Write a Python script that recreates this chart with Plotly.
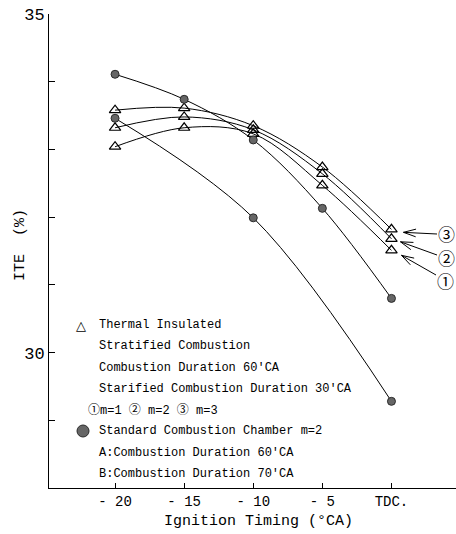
import math
import plotly.graph_objects as go

# Ignition timing sweep (deg CA, TDC = 0)
timing = [-20, -15, -10, -5, 0]
timing_b = [-20, -10, 0]

# Thermal insulated stratified combustion, m = 1, 2, 3 (ITE %)
ite_m1 = [33.04, 33.32, 33.23, 32.47, 31.51]
ite_m2 = [33.32, 33.48, 33.29, 32.64, 31.68]
ite_m3 = [33.58, 33.61, 33.35, 32.74, 31.82]

# Standard combustion chamber m = 2 (A: 60 deg CA, B: 70 deg CA duration)
ite_std_a = [34.11, 33.74, 33.14, 32.13, 30.80]
ite_std_b = [33.46, 31.99, 29.28]

x_ticks = [-20, -15, -10, -5, 0]
x_ticktext = ["- 20", "- 15", "- 10", "- 5", "TDC."]
y_ticks = [28, 29, 30, 31, 32, 33, 34, 35]
y_ticktext = ["", "", "30", "", "", "", "", "35"]

legend_lines = [
    "Thermal Insulated",
    "Stratified Combustion",
    "Combustion Duration 60'CA",
    "Starified Combustion Duration 30'CA",
    "①m=1 ② m=2 ③ m=3",
    "Standard Combustion Chamber m=2",
    "A:Combustion Duration 60'CA",
    "B:Combustion Duration 70'CA",
]

MONO = "Liberation Mono, Noto Sans CJK JP, monospace"
W, H = 456, 534
ML, MR, MT, MB = 49, 0, 14, 46
XR = [-24.78, 4.67]
YR = [28, 35]
PW, PH = W - ML - MR, H - MT - MB


def to_px(x, y):
    px = ML + (x - XR[0]) / (XR[1] - XR[0]) * PW
    py = MT + (YR[1] - y) / (YR[1] - YR[0]) * PH
    return px, py


def to_data(px, py):
    x = XR[0] + (px - ML) / PW * (XR[1] - XR[0])
    y = YR[1] - (py - MT) / PH * (YR[1] - YR[0])
    return x, y


def to_paper(px, py):
    return (px - ML) / PW, (H - MB - py) / PH


fig = go.Figure()

line_style = dict(color="black", width=1, shape="spline", smoothing=1.0)
tri = dict(symbol="triangle-up-open", size=10, color="black", line=dict(width=1.2, color="black"))
dot = dict(symbol="circle", size=8, color="#666666", line=dict(width=1, color="#2a2a2a"))

for ys in (ite_m1, ite_m2, ite_m3):
    fig.add_trace(go.Scatter(x=timing, y=ys, mode="lines+markers", line=line_style,
                             marker=tri, showlegend=False))
fig.add_trace(go.Scatter(x=timing, y=ite_std_a, mode="lines+markers", line=line_style,
                         marker=dot, showlegend=False))
fig.add_trace(go.Scatter(x=timing_b, y=ite_std_b, mode="lines+markers", line=line_style,
                         marker=dot, showlegend=False))

annotations = []
shapes = []

# Call-out arrows pointing at the TDC points of the m-series
callouts = [
    ("③", ite_m3[-1], (12, 3), (437, 234), (446, 233)),
    ("②", ite_m2[-1], (9, 3), (437, 255), (446, 257)),
    ("①", ite_m1[-1], (10, 5), (436, 275), (445, 280)),
]
for label, yval, (ox, oy), tail, centre in callouts:
    bx, by = to_px(timing[-1], yval)
    tip = (bx + ox, by + oy)
    tx, ty = to_data(*tip)
    sx, sy = to_data(*tail)
    shapes.append(dict(type="line", xref="x", yref="y", x0=sx, y0=sy, x1=tx, y1=ty,
                       line=dict(color="black", width=1)))
    # open V arrowhead
    dxp, dyp = tail[0] - tip[0], tail[1] - tip[1]
    ln = (dxp ** 2 + dyp ** 2) ** 0.5
    ux, uy = dxp / ln, dyp / ln
    for ang in (0.3, -0.3):
        ca, sa = math.cos(ang), math.sin(ang)
        rx, ry = ux * ca - uy * sa, ux * sa + uy * ca
        ex, ey = to_data(tip[0] + rx * 13, tip[1] + ry * 13)
        shapes.append(dict(type="line", xref="x", yref="y", x0=tx, y0=ty, x1=ex, y1=ey,
                           line=dict(color="black", width=1)))
    cx, cy = to_paper(*centre)
    annotations.append(dict(text=label, x=cx, y=cy, xref="paper", yref="paper",
                            showarrow=False, xanchor="center", yanchor="middle",
                            font=dict(family="Noto Sans CJK JP", size=17, color="black")))

# Legend block
line_y = [325, 346, 368, 389, 410, 431, 453, 474]
for i, (txt, py) in enumerate(zip(legend_lines, line_y)):
    left = 86 if i == 4 else 97
    px_, py_ = to_paper(left, py)
    annotations.append(dict(text=txt, x=px_, y=py_, xref="paper", yref="paper",
                            showarrow=False, xanchor="left", yanchor="middle",
                            font=dict(family=MONO, size=12, color="black")))
tx_, ty_ = to_paper(81, 325)
annotations.append(dict(text="△", x=tx_, y=ty_, xref="paper", yref="paper",
                        showarrow=False, xanchor="center", yanchor="middle",
                        font=dict(family="DejaVu Sans", size=13, color="black")))
c0x, c0y = to_paper(77, 425)
c1x, c1y = to_paper(89, 437)
shapes.append(dict(type="circle", xref="paper", yref="paper", x0=c0x, y0=c1y, x1=c1x, y1=c0y,
                   fillcolor="#666666", line=dict(color="#2a2a2a", width=1)))

# Axis titles
yx, yy = to_paper(20, 245)
annotations.append(dict(text="ITE  (%)", x=yx, y=yy, xref="paper", yref="paper",
                        showarrow=False, textangle=-90, xanchor="center", yanchor="middle",
                        font=dict(family=MONO, size=15, color="black")))
xx, xy = to_paper(258, 521)
annotations.append(dict(text="Ignition Timing (°CA)", x=xx, y=xy, xref="paper", yref="paper",
                        showarrow=False, xanchor="center", yanchor="middle",
                        font=dict(family=MONO, size=15, color="black")))

fig.update_layout(
    width=W, height=H,
    margin=dict(l=ML, r=MR, t=MT, b=MB, pad=0),
    paper_bgcolor="white", plot_bgcolor="white",
    showlegend=False,
    annotations=annotations,
    shapes=shapes,
    xaxis=dict(range=XR, showgrid=False, zeroline=False, showline=True, linecolor="black",
               linewidth=1, ticks="inside", ticklen=5, tickcolor="black",
               tickvals=x_ticks, ticktext=x_ticktext,
               tickfont=dict(family=MONO, size=14, color="black")),
    yaxis=dict(range=YR, showgrid=False, zeroline=False, showline=True, linecolor="black",
               linewidth=1, ticks="inside", ticklen=6, tickcolor="black",
               tickvals=y_ticks, ticktext=y_ticktext,
               tickfont=dict(family=MONO, size=17, color="black")),
)

fig.write_html("out.html")
